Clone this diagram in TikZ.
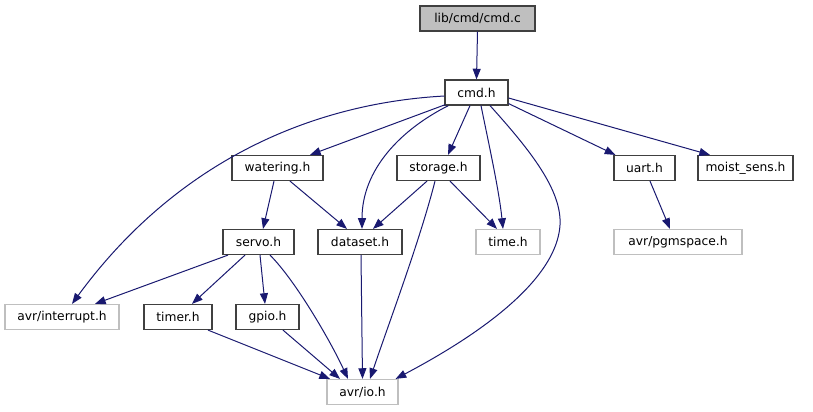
\documentclass[tikz,border=0pt]{standalone}
\usepackage{fontspec}
\setmainfont{DejaVu Sans}
\usetikzlibrary{arrows.meta,calc}
\definecolor{edgeblue}{HTML}{191970}
\definecolor{boxdark}{HTML}{404040}
\definecolor{boxgray}{HTML}{BFBFBF}
\tikzset{
  nbox/.style={draw=boxdark, line width=0.9pt, fill=white, inner sep=0pt, minimum height=18.75pt, font=\fontsize{9.2pt}{11pt}\selectfont, text=black},
  rootbox/.style={nbox, fill=boxgray},
  extbox/.style={nbox, draw=boxgray},
  dep/.style={draw=edgeblue, line width=0.75pt, -{Triangle[length=8pt,width=6pt]}, fill=none},
}
\begin{document}
\begin{tikzpicture}[x=0.75pt,y=-0.75pt]
\useasboundingbox (0,0) rectangle (813,411);
% nodes
\node[rootbox, minimum width=86.25pt] (cmdc) at (477.5,18.5) {lib/cmd/cmd.c};
\node[nbox, minimum width=47.25pt] (cmdh) at (476.5,92.5) {cmd.h};
\node[nbox, minimum width=68.25pt] (watering) at (277.5,168) {watering.h};
\node[nbox, minimum width=62.25pt] (storage) at (438.5,168) {storage.h};
\node[nbox, minimum width=45.75pt] (uart) at (644.5,168) {uart.h};
\node[nbox, minimum width=71.25pt] (moist) at (745.5,168) {moist\_sens.h};
\node[nbox, minimum width=53.25pt] (servo) at (258.5,242) {servo.h};
\node[nbox, minimum width=63pt] (dataset) at (360,242) {dataset.h};
\node[extbox, minimum width=48pt] (time) at (508,242) {time.h};
\node[extbox, minimum width=96pt] (pgm) at (678,242) {avr/pgmspace.h};
\node[extbox, minimum width=85.5pt] (intr) at (62,317) {avr/interrupt.h};
\node[nbox, minimum width=51pt] (timer) at (178,317) {timer.h};
\node[nbox, minimum width=47.25pt] (gpio) at (267.5,317) {gpio.h};
\node[extbox, minimum width=53.25pt] (io) at (362.5,392) {avr/io.h};
% edges
\draw[dep] (cmdc.south) -- (cmdh.north);
\draw[dep] ($(cmdh.west)+(0,3.5)$) .. controls (300,104) and (170,170) .. ($(intr.north)+(10,0)$);
\draw[dep] ($(cmdh.south west)+(1,-1)$) -- ($(watering.north)+(32.5,0)$);
\draw[dep] ($(cmdh.south west)+(4,0)$) .. controls (400,130) and (362,170) .. ($(dataset.north)+(2,0)$);
\draw[dep] ($(cmdh.south)+(-6.5,0)$) -- ($(storage.north)+(9.5,0)$);
\draw[dep] ($(cmdh.south)+(4.5,0)$) .. controls (489,145) and (499,190) .. ($(time.north)+(-5,0)$);
\draw[dep] ($(cmdh.south)+(13.5,0)$) .. controls (530,150) and (562,190) .. (560,225) .. controls (556,290) and (450,350) .. ($(io.north east)+(-3,0)$);
\draw[dep] ($(cmdh.south east)+(0,-2)$) -- ($(uart.north west)+(2,0)$);
\draw[dep] ($(cmdh.east)+(0,5.5)$) -- ($(moist.north)+(-35.5,0)$);
\draw[dep] ($(watering.south)+(-3.5,0)$) -- ($(servo.north)+(4.5,0)$);
\draw[dep] ($(watering.south)+(12.5,0)$) -- ($(dataset.north)+(-13,0)$);
\draw[dep] ($(storage.south)+(-11.5,0)$) -- ($(dataset.north)+(13,0)$);
\draw[dep] ($(storage.south)+(11.5,0)$) -- ($(time.north)+(-11,0)$);
\draw[dep] ($(storage.south)+(-3.5,0)$) .. controls (420,240) and (390,320) .. ($(io.north)+(7.5,0)$);
\draw[dep] ($(servo.south)+(-30.5,0)$) -- ($(intr.north)+(33,0)$);
\draw[dep] ($(servo.south)+(-13.5,0)$) -- ($(timer.north)+(14,0)$);
\draw[dep] ($(servo.south)+(1.5,0)$) -- ($(gpio.north)+(-2.5,0)$);
\draw[dep] ($(servo.south)+(11.5,0)$) .. controls (295,280) and (330,340) .. ($(io.north)+(-14.5,0)$);
\draw[dep] ($(dataset.south)+(1,0)$) -- (io.north);
\draw[dep] ($(timer.south)+(30,0)$) -- ($(io.north)+(-32.5,0)$);
\draw[dep] ($(gpio.south)+(15.5,0)$) -- ($(io.north)+(-22.5,0)$);
\draw[dep] ($(uart.south)+(5.5,0)$) -- ($(pgm.north)+(-8,0)$);
\end{tikzpicture}
\end{document}
